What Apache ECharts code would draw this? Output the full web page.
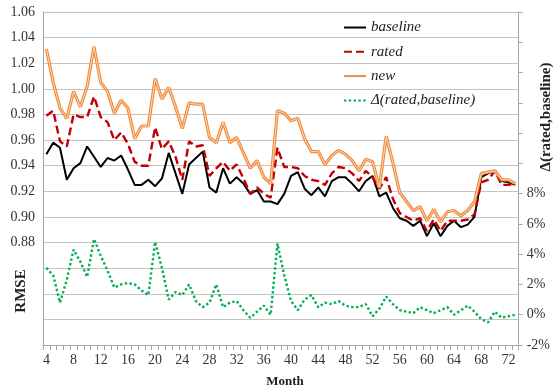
<!DOCTYPE html>
<html>
<head>
<meta charset="utf-8">
<script src="https://cdn.jsdelivr.net/npm/echarts@6/dist/echarts.min.js"></script>
<style>
html,body{margin:0;padding:0;background:#fff;}
#chart{width:553px;height:388px;}
</style>
</head>
<body>
<div id="chart"></div>
<script>
// Categories (month)
var months = [4,5,6,7,8,9,10,11,12,13,14,15,16,17,18,19,20,21,22,23,24,25,26,27,28,29,30,31,32,33,34,35,36,37,38,39,40,41,42,43,44,45,46,47,48,49,50,51,52,53,54,55,56,57,58,59,60,61,62,63,64,65,66,67,68,69,70,71,72,73];

// RMSE series (left axis)
var baseline = [0.949,0.958,0.954,0.929,0.938,0.942,0.955,0.947,0.939,0.946,0.944,0.948,0.937,0.925,0.925,0.929,0.924,0.930,0.950,0.934,0.918,0.941,0.946,0.951,0.923,0.919,0.938,0.926,0.931,0.926,0.918,0.921,0.912,0.912,0.910,0.918,0.932,0.935,0.922,0.917,0.923,0.916,0.928,0.931,0.931,0.926,0.920,0.928,0.932,0.916,0.919,0.907,0.899,0.897,0.893,0.897,0.885,0.895,0.885,0.893,0.897,0.892,0.894,0.900,0.931,0.934,0.936,0.928,0.927,0.925];
var rated = [0.979,0.983,0.959,0.955,0.980,0.978,0.978,0.994,0.978,0.974,0.960,0.966,0.957,0.943,0.940,0.940,0.970,0.953,0.959,0.947,0.929,0.959,0.955,0.956,0.932,0.938,0.943,0.936,0.941,0.930,0.918,0.923,0.918,0.915,0.954,0.939,0.939,0.938,0.932,0.929,0.928,0.925,0.934,0.939,0.938,0.934,0.928,0.936,0.931,0.922,0.931,0.914,0.903,0.900,0.897,0.899,0.889,0.898,0.889,0.897,0.897,0.897,0.898,0.902,0.927,0.929,0.936,0.925,0.925,0.926];
var newer = [1.031,1.005,0.985,0.977,0.998,0.986,1.002,1.033,1.005,0.998,0.981,0.991,0.985,0.961,0.971,0.971,1.008,0.992,1.001,0.986,0.969,0.989,0.988,0.988,0.962,0.958,0.974,0.958,0.962,0.950,0.938,0.944,0.931,0.926,0.983,0.981,0.975,0.977,0.961,0.951,0.951,0.941,0.948,0.952,0.949,0.944,0.936,0.945,0.943,0.923,0.963,0.942,0.919,0.912,0.905,0.908,0.897,0.906,0.896,0.904,0.905,0.901,0.905,0.912,0.934,0.935,0.936,0.929,0.929,0.926];

// Delta (rated vs baseline), percent (right axis)
var delta = [3.1,2.6,0.8,2.3,4.3,3.5,2.5,5.0,3.9,2.9,1.8,2.0,2.1,2.0,1.6,1.3,4.8,3.1,1.0,1.5,1.3,2.0,0.9,0.5,0.8,2.0,0.5,0.8,0.9,0.3,-0.2,0.2,0.6,0.0,4.7,2.6,0.9,0.3,1.0,1.3,0.5,0.8,0.7,0.9,0.6,0.5,0.5,0.7,-0.1,0.4,1.2,0.7,0.3,0.2,0.1,0.5,0.3,0.1,0.3,0.5,0.0,0.3,0.6,0.2,-0.3,-0.5,0.2,-0.2,-0.1,0.0];

var seriesNames = ['baseline','rated','new','\u0394(rated,baseline)'];

var serif = '"Liberation Serif","Times New Roman",serif';
var axisGray = '#a6a6a6';

var chart = echarts.init(document.getElementById('chart'), null, {renderer:'canvas'});
chart.setOption({
  animation: false,
  backgroundColor: '#fff',
  grid: {left: 43, right: 25, top: 12, bottom: 43, containLabel: false},
  legend: {
    orient: 'vertical',
    left: 343, top: 20, padding: 0,
    itemWidth: 22, itemHeight: 14, itemGap: 9.3,
    data: seriesNames,
    itemStyle: {opacity: 0, color: 'transparent', borderColor: 'transparent', borderWidth: 0},
    textStyle: {fontFamily: serif, fontStyle: 'italic', fontSize: 15, color: '#222'}
  },
  xAxis: {
    type: 'category',
    data: months,
    boundaryGap: true,
    axisLine: {onZero: false, lineStyle: {color: axisGray, width: 1}},
    axisTick: {show: true, interval: 0, length: 5, lineStyle: {color: axisGray}},
    axisLabel: {interval: 3, margin: 8, fontFamily: serif, fontSize: 14, color: '#333'},
    splitLine: {show: false}
  },
  yAxis: [{
    type: 'value',
    min: 0.80, max: 1.06, interval: 0.02,
    axisLine: {show: true, onZero: false, lineStyle: {color: axisGray}},
    axisTick: {show: false},
    axisLabel: {
      margin: 8, fontFamily: serif, fontSize: 14, color: '#333',
      formatter: function (v) { return v >= 0.875 ? v.toFixed(2) : ''; }
    },
    splitLine: {show: true, lineStyle: {color: '#c4c4c4', width: 1.2}}
  }, {
    type: 'value',
    min: -2, max: 20, interval: 2,
    position: 'right',
    axisLine: {show: true, onZero: false, lineStyle: {color: axisGray}},
    axisTick: {show: true, length: 4, inside: false, lineStyle: {color: axisGray}},
    axisLabel: {
      margin: 8, fontFamily: serif, fontSize: 14, color: '#333',
      formatter: function (v) { return v <= 8 ? v + '%' : ''; }
    },
    splitLine: {show: false}
  }],
  graphic: [
    {type: 'text', x: 21, y: 291, rotation: Math.PI / 2,
      style: {text: 'RMSE', fontFamily: serif, fontWeight: 'bold', fontSize: 15, fill: '#222', align: 'center', verticalAlign: 'middle'}},
    {type: 'text', x: 546, y: 117, rotation: Math.PI / 2,
      style: {text: '\u0394(rated,baseline)', fontFamily: serif, fontWeight: 'bold', fontSize: 15, fill: '#222', align: 'center', verticalAlign: 'middle'}},
    {type: 'text', x: 285, y: 382,
      style: {text: 'Month', fontFamily: serif, fontWeight: 'bold', fontSize: 13, fill: '#222', align: 'center', verticalAlign: 'middle'}}
  ],
  series: [
    {name: 'baseline', type: 'line', yAxisIndex: 0, data: baseline, symbol: 'none',
      lineStyle: {color: '#000', width: 2}, itemStyle: {color: '#000'}, z: 3},
    {name: 'rated', type: 'line', yAxisIndex: 0, data: rated, symbol: 'none',
      lineStyle: {color: '#c00000', width: 2.4, type: [8, 4]}, itemStyle: {color: '#c00000'}, z: 4},
    {name: 'new', type: 'line', yAxisIndex: 0, data: newer, symbol: 'none',
      lineStyle: {color: '#f28a3a', width: 3.2}, itemStyle: {color: '#f28a3a'}, z: 5},
    {name: 'new', type: 'line', yAxisIndex: 0, data: newer, symbol: 'none',
      lineStyle: {color: '#fcd6b8', width: 1}, itemStyle: {color: '#fcd6b8'}, z: 6},
    {name: '\u0394(rated,baseline)', type: 'line', yAxisIndex: 1, data: delta, symbol: 'none',
      lineStyle: {color: '#00b050', width: 2.4, type: [2.4, 2.4]}, itemStyle: {color: '#00b050'}, z: 3}
  ]
});
</script>
</body>
</html>
